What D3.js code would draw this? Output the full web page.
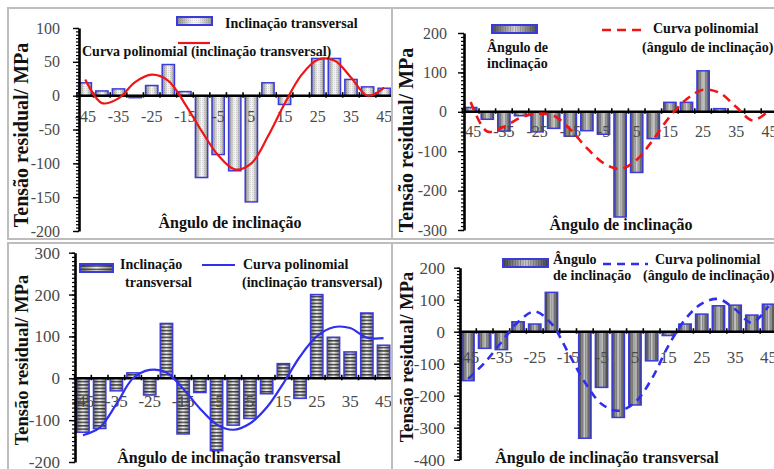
<!DOCTYPE html>
<html>
<head>
<meta charset="utf-8">
<script src="https://cdn.jsdelivr.net/npm/d3@7"></script>
<style>
  body { margin: 0; background: #fff; }
  text { font-family: "Liberation Serif", "Times New Roman", serif; }
</style>
</head>
<body>
<svg id="chart" width="774" height="469"></svg>
<script>
// categories (degrees) and the labelled ones
var angles = [-45, -40, -35, -30, -25, -20, -15, -10, -5, 0, 5, 10, 15, 20, 25, 30, 35, 40, 45];
var xTicks = [-45, -35, -25, -15, -5, 5, 15, 25, 35, 45];

// top left: inclinação transversal
var barsTL  = [19, 7, 10, -3, 15, 46, 6, -121, -87, -111, -157, 19, -13, 0, 55, 55, 24, 13, 11];
var curveTL = [24, -11, -4, 20, 31, 22, -12, -52, -88, -109, -100, -60, -12, 30, 53, 52, 27, 0, 12];

// top right: ângulo de inclinação
var barsTR  = [11, -19, -49, -10, -51, -42, -62, -48, -57, -267, -154, -68, 24, 24, 104, 8, 0, 0, 0];
var curveTR = [25, -50, -38, -15, -5, -10, -45, -92, -130, -145, -122, -70, -12, 32, 56, 48, 12, -22, 5];

// bottom left: inclinação transversal
var barsBL  = [-129, -120, -30, 13, -40, 131, -133, -34, -173, -112, -96, -37, 35, -48, 200, 98, 63, 156, 79];
var curveBL = [-136, -118, -62, 0, 20, 14, -25, -72, -110, -123, -108, -70, -12, 52, 100, 122, 120, 97, 96];

// bottom right: ângulo de inclinação
var barsBR  = [-153, -52, -56, 31, 24, 123, 0, -333, -174, -268, -229, -91, -12, 24, 55, 81, 83, 52, 86];
var curveBR = [-148, -97, -33, 30, 63, 25, -65, -158, -226, -247, -221, -148, -44, 38, 88, 102, 70, 28, 80];

var yTitle = 'Tensão residual/ MPa';
var barStroke = '#3b3bdc';

var svg = d3.select('#chart');
var defs = svg.append('defs');

function hGrad(id, stops) {
  var g = defs.append('linearGradient').attr('id', id)
    .attr('x1', 0).attr('x2', 1).attr('y1', 0).attr('y2', 0);
  stops.forEach(function(s) {
    g.append('stop').attr('offset', s[0]).attr('stop-color', s[1]);
  });
}
hGrad('gA', [[0, '#8c8c8c'], [0.45, '#f6f6f6'], [0.6, '#f2f2f2'], [1, '#9c9c9c']]);
hGrad('gB', [[0, '#505050'], [0.5, '#d2d2d2'], [1, '#505050']]);
hGrad('gC', [[0, '#7a7a7a'], [0.5, '#f4f4f4'], [1, '#7a7a7a']]);
hGrad('gD', [[0, '#474747'], [0.5, '#cfcfcf'], [1, '#474747']]);

// textures laid over the gradients
var dots = defs.append('pattern').attr('id', 'tA').attr('patternUnits', 'userSpaceOnUse')
  .attr('width', 2).attr('height', 2);
dots.append('rect').attr('width', 1).attr('height', 1).attr('fill', '#000').attr('opacity', 0.12);

var vlines = defs.append('pattern').attr('id', 'tB').attr('patternUnits', 'userSpaceOnUse')
  .attr('width', 2.5).attr('height', 4);
vlines.append('rect').attr('width', 0.8).attr('height', 4).attr('fill', '#000').attr('opacity', 0.18);

var hlines = defs.append('pattern').attr('id', 'tC').attr('patternUnits', 'userSpaceOnUse')
  .attr('width', 4).attr('height', 3.4);
hlines.append('rect').attr('width', 4).attr('height', 1.5).attr('fill', '#1a1a1a').attr('opacity', 0.8);

var vlines2 = defs.append('pattern').attr('id', 'tD').attr('patternUnits', 'userSpaceOnUse')
  .attr('width', 2.6).attr('height', 4);
vlines2.append('rect').attr('width', 1).attr('height', 4).attr('fill', '#111').attr('opacity', 0.3);

var panels = [
  { box: [8, 8, 384, 231], xr: [77, 392.5], axisX: 79,
    yd: [-200, 100], yr: [231, 28], major: 50, minor: 5,
    bars: barsTL, curve: curveTL, color: '#f01414', dash: null, lw: 2.2,
    fill: 'url(#gA)', tex: 'url(#tA)', fs: 16, yPad: 13, xPad: 15,
    title: [28, 135, 20], xTitle: ['Ângulo de inclinação', 230, 228],
    legend: { bar: [177, 17, 35, 8], line: [178, 210, 43],
      texts: [['Inclinação transversal', 225, 28], ['Curva polinomial (inclinação transversal)', 82, 56]] } },
  { box: [392, 8, 390, 231], xr: [462.4, 777.8], axisX: 464,
    yd: [-300, 200], yr: [230, 33], major: 100, minor: 10,
    bars: barsTR, curve: curveTR, color: '#f01414', dash: '9,6', lw: 2.6,
    fill: 'url(#gB)', tex: 'url(#tB)', fs: 16, yPad: 11, xPad: 14,
    title: [413, 140, 20], xTitle: ['Ângulo de inclinação', 621, 230],
    legend: { bar: [492, 25, 45, 8], line: [602, 645, 30],
      texts: [['Ângulo de', 487, 52], ['inclinação', 487, 68],
              ['Curva polinomial', 653, 33], ['(ângulo de inclinação)', 642, 52]] } },
  { box: [8, 243, 384, 230], xr: [74.6, 391.9], axisX: 75,
    yd: [-200, 300], yr: [462, 252.7], major: 100, minor: 10,
    bars: barsBL, curve: curveBL, color: '#2f2ff0', dash: null, lw: 2.2,
    fill: 'url(#gC)', tex: 'url(#tC)', fs: 17, yPad: 9, xPad: 17,
    title: [28, 360, 18.5], xTitle: ['Ângulo de inclinação transversal', 229, 463],
    legend: { bar: [80, 264, 33, 8], line: [202, 235, 265],
      texts: [['Inclinação', 120, 269], ['transversal', 125, 287],
              ['Curva polinomial', 243, 269], ['(inclinação transversal)', 242, 287]] } },
  { box: [392, 243, 390, 230], xr: [459.6, 776.9], axisX: 460,
    yd: [-400, 200], yr: [459.7, 267.7], major: 100, minor: 10,
    bars: barsBR, curve: curveBR, color: '#2f2ff0', dash: '8,6', lw: 2.6,
    fill: 'url(#gD)', tex: 'url(#tD)', fs: 17, yPad: 9, xPad: 19,
    title: [413, 357, 18.5], xTitle: ['Ângulo de inclinação transversal', 607, 463],
    legend: { bar: [503, 259, 45, 8], line: [603, 648, 264],
      texts: [['Ângulo', 553, 264], ['de inclinação', 553, 280],
              ['Curva polinomial', 655, 264], ['(ângulo de inclinação)', 643, 280]] } }
];

function drawPanel(p, i) {
  defs.append('clipPath').attr('id', 'clip' + i).append('rect')
    .attr('x', p.box[0]).attr('y', p.box[1]).attr('width', p.box[2]).attr('height', p.box[3]);
  var c = svg.append('g').attr('clip-path', 'url(#clip' + i + ')');

  var x = d3.scaleBand().domain(angles).range(p.xr).paddingInner(0.26).paddingOuter(0.13);
  var y = d3.scaleLinear().domain(p.yd).range(p.yr);
  var y0 = y(0);

  function barAttrs(sel) {
    sel.attr('x', function(d, j) { return x(angles[j]); })
      .attr('width', x.bandwidth())
      .attr('y', function(d) { return Math.min(y(d), y0); })
      .attr('height', function(d) { return Math.abs(y(d) - y0); });
  }
  var bars = c.append('g');
  bars.selectAll('rect.b').data(p.bars).join('rect').attr('class', 'b').call(barAttrs).attr('fill', p.fill);
  bars.selectAll('rect.t').data(p.bars).join('rect').attr('class', 't').call(barAttrs).attr('fill', p.tex);
  bars.selectAll('rect.o').data(p.bars).join('rect').attr('class', 'o').call(barAttrs)
    .attr('fill', 'none').attr('stroke', barStroke).attr('stroke-width', 1.5);

  // category labels under the zero line
  var xa = c.append('g').attr('transform', 'translate(0,' + y0 + ')')
    .call(d3.axisBottom(x).tickValues(xTicks).tickSize(0).tickPadding(p.xPad).tickFormat(String));
  xa.select('.domain').remove();
  xa.attr('font-family', null).attr('font-size', p.fs);
  xa.selectAll('text').attr('fill', '#4a4a4a');

  // zero line with small marks between categories
  c.append('line').attr('x1', p.axisX).attr('x2', p.xr[1]).attr('y1', y0).attr('y2', y0)
    .attr('stroke', '#000').attr('stroke-width', 2.5);
  var gap = (x.step() - x.bandwidth()) / 2;
  var bounds = angles.map(function(a) { return x(a) - gap; });
  c.selectAll('line.xt').data(bounds).join('line').attr('class', 'xt')
    .attr('x1', function(d) { return d; }).attr('x2', function(d) { return d; })
    .attr('y1', y0 - 3.5).attr('y2', y0 + 2).attr('stroke', '#000').attr('stroke-width', 1.6);

  // y axis: minor ruler ticks + labelled major ticks
  var ym = c.append('g').attr('transform', 'translate(' + p.axisX + ',0)')
    .call(d3.axisLeft(y).tickValues(d3.range(p.yd[0], p.yd[1] + 0.1, p.minor))
      .tickSize(3).tickSizeOuter(0).tickFormat(''));
  ym.select('.domain').remove();
  ym.selectAll('line').attr('stroke-width', 1.2);
  var yM = c.append('g').attr('transform', 'translate(' + p.axisX + ',0)')
    .call(d3.axisLeft(y).tickValues(d3.range(p.yd[0], p.yd[1] + 0.1, p.major))
      .tickSize(6).tickSizeOuter(0).tickPadding(p.yPad).tickFormat(String));
  yM.attr('font-family', null).attr('font-size', p.fs);
  yM.select('.domain').attr('stroke-width', 2.6);
  yM.selectAll('line').attr('stroke-width', 1.4);
  yM.selectAll('text').attr('fill', '#4a4a4a');

  // polynomial trend
  var line = d3.line()
    .x(function(d, j) { return x(angles[j]) + x.bandwidth() / 2; })
    .y(function(d) { return y(d); })
    .curve(d3.curveCatmullRom.alpha(0.5));
  c.append('path').datum(p.curve).attr('d', line).attr('fill', 'none')
    .attr('stroke', p.color).attr('stroke-width', p.lw).attr('stroke-dasharray', p.dash);

  // legend
  var L = p.legend;
  ['fill', 'tex'].forEach(function(k) {
    c.append('rect').attr('x', L.bar[0]).attr('y', L.bar[1]).attr('width', L.bar[2]).attr('height', L.bar[3])
      .attr('fill', p[k]);
  });
  c.append('rect').attr('x', L.bar[0]).attr('y', L.bar[1]).attr('width', L.bar[2]).attr('height', L.bar[3])
    .attr('fill', 'none').attr('stroke', barStroke).attr('stroke-width', 2);
  c.append('line').attr('x1', L.line[0]).attr('x2', L.line[1]).attr('y1', L.line[2]).attr('y2', L.line[2])
    .attr('stroke', p.color).attr('stroke-width', p.lw).attr('stroke-dasharray', p.dash);
  c.selectAll('text.lg').data(L.texts).join('text').attr('class', 'lg')
    .attr('x', function(d) { return d[1]; }).attr('y', function(d) { return d[2]; })
    .attr('font-size', 14).attr('font-weight', 'bold').attr('fill', '#111')
    .text(function(d) { return d[0]; });

  // titles
  c.append('text').attr('transform', 'translate(' + p.title[0] + ',' + p.title[1] + ') rotate(-90)')
    .attr('text-anchor', 'middle').attr('font-size', p.title[2]).attr('font-weight', 'bold')
    .attr('fill', '#111').text(yTitle);
  c.append('text').attr('x', p.xTitle[1]).attr('y', p.xTitle[2]).attr('text-anchor', 'middle')
    .attr('font-size', 16).attr('font-weight', 'bold').attr('fill', '#111').text(p.xTitle[0]);

  // panel frame
  svg.append('rect').attr('x', p.box[0]).attr('y', p.box[1]).attr('width', p.box[2]).attr('height', p.box[3])
    .attr('fill', 'none').attr('stroke', '#bdbdbd').attr('stroke-width', 2);
}

panels.forEach(drawPanel);
</script>
</body>
</html>
